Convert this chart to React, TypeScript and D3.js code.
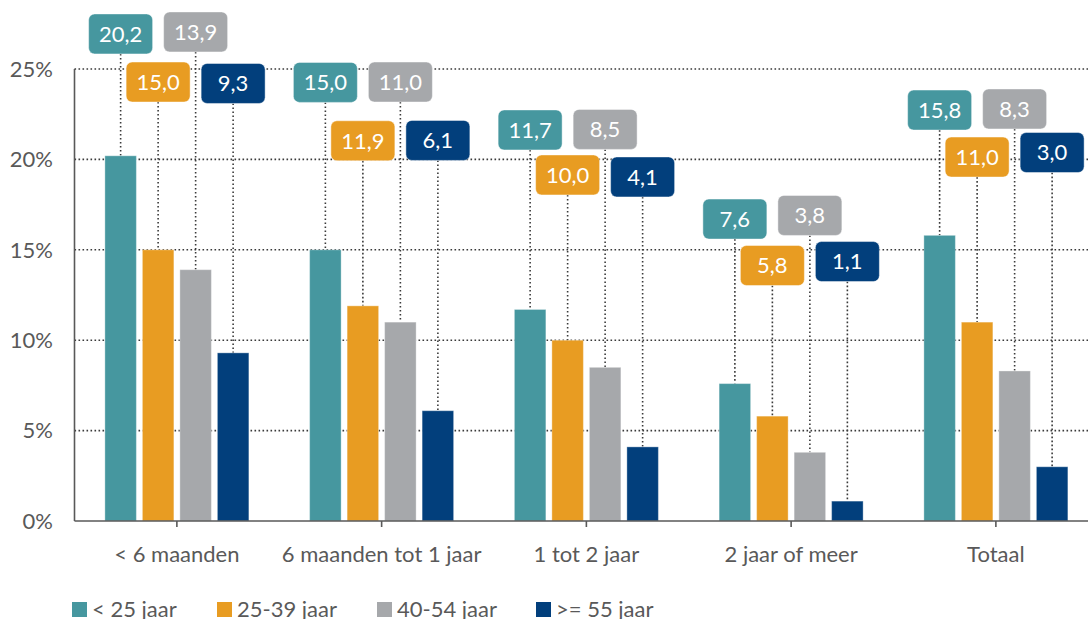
import React from "react";
import * as d3 from "d3";

// categories and series
const categories = ["< 6 maanden", "6 maanden tot 1 jaar", "1 tot 2 jaar", "2 jaar of meer", "Totaal"];
const seriesNames = ["< 25 jaar", "25-39 jaar", "40-54 jaar", ">= 55 jaar"];
const under25 = [20.2, 15.0, 11.7, 7.6, 15.8];
const age25to39 = [15.0, 11.9, 10.0, 5.8, 11.0];
const age40to54 = [13.9, 11.0, 8.5, 3.8, 8.3];
const over55 = [9.3, 6.1, 4.1, 1.1, 3.0];
const yTicks = [0, 5, 10, 15, 20, 25];

// where the value boxes sit (in % units on the y axis), placed by hand in the original
const labelLevelUnder25 = [26.94, 24.26, 21.63, 16.7, 22.73];
const labelLevel25to39 = [24.28, 21.03, 19.14, 14.13, 20.13];
const labelLevel40to54 = [27.05, 24.28, 21.66, 16.9, 22.79];
const labelLevelOver55 = [24.2, 21.05, 19.03, 14.35, 20.38];

const colors = ["#46979f", "#e89c22", "#a6a8ab", "#023f7c"];
const legendX = [72, 217, 377, 536];

const W = 1088;
const H = 619;
const FONT = "Lato, 'Open Sans', sans-serif";
const TEXT = "#595959";

export default function App() {
  const series = [under25, age25to39, age40to54, over55];
  const levels = [labelLevelUnder25, labelLevel25to39, labelLevel40to54, labelLevelOver55];

  const y = d3.scaleLinear().domain([0, 25]).range([521, 69]);
  const x0 = d3.scaleBand<string>().domain(categories).range([74.5, 1098.25]);
  const groupW = 144;
  const x1 = d3.scaleBand<string>().domain(seriesNames).range([0, groupW]).paddingInner(0.16);
  const groupOffset = (x0.bandwidth() - groupW) / 2;
  const left = 74.5;
  const boxW = 64;
  const boxH = 40;

  const barX = (ci: number, si: number) =>
    (x0(categories[ci]) as number) + groupOffset + (x1(seriesNames[si]) as number);

  return (
    <svg
      width={W}
      height={H}
      style={{ position: "absolute", left: 0, top: 0, background: "#fff" }}
      fontFamily={FONT}
    >
      {/* gridlines */}
      <g stroke="#3a3a3a" strokeWidth={1.6} strokeDasharray="1.6 2.4">
        {yTicks.slice(1).map((t) => (
          <line key={t} x1={left} x2={W} y1={y(t)} y2={y(t)} />
        ))}
      </g>

      {/* y tick labels */}
      <g fill={TEXT} fontSize={22} textAnchor="end">
        {yTicks.map((t) => (
          <text key={t} x={53} y={y(t)} dy="0.35em">
            {t}%
          </text>
        ))}
      </g>

      {/* leader lines */}
      <g stroke="#3a3a3a" strokeWidth={1.6} strokeDasharray="1.6 2.4">
        {series.map((vals, si) =>
          vals.map((v, ci) => {
            const cx = barX(ci, si) + x1.bandwidth() / 2;
            return (
              <line
                key={`${si}-${ci}`}
                x1={cx}
                x2={cx}
                y1={y(levels[si][ci]) + boxH / 2}
                y2={y(v)}
              />
            );
          })
        )}
      </g>

      {/* bars */}
      {series.map((vals, si) => (
        <g key={si} fill={colors[si]} stroke="#ffffff" strokeOpacity={0.35} strokeWidth={1}>
          {vals.map((v, ci) => (
            <rect
              key={ci}
              x={barX(ci, si)}
              y={y(v)}
              width={x1.bandwidth()}
              height={y(0) - y(v)}
            />
          ))}
        </g>
      ))}

      {/* axes */}
      <line x1={left} x2={left} y1={y(25)} y2={y(0)} stroke={TEXT} strokeWidth={1.6} />
      <line x1={left} x2={W} y1={y(0)} y2={y(0)} stroke={TEXT} strokeWidth={1.6} />
      {categories.map((c) => {
        const cx = (x0(c) as number) + x0.bandwidth() / 2;
        return (
          <g key={c}>
            <line x1={cx} x2={cx} y1={y(0)} y2={y(0) + 6} stroke={TEXT} strokeWidth={1.6} />
            <text x={cx} y={562} textAnchor="middle" fontSize={22} fill={TEXT}>
              {c}
            </text>
          </g>
        );
      })}

      {/* value boxes */}
      {series.map((vals, si) =>
        vals.map((v, ci) => {
          const cx = barX(ci, si) + x1.bandwidth() / 2;
          const cy = y(levels[si][ci]);
          return (
            <g key={`b${si}-${ci}`}>
              <rect
                x={cx - boxW / 2}
                y={cy - boxH / 2}
                width={boxW}
                height={boxH}
                rx={6}
                fill={colors[si]}
                stroke="#ffffff"
                strokeOpacity={0.45}
              />
              <text x={cx} y={cy} dy="0.36em" textAnchor="middle" fontSize={22} fill="#fff">
                {d3.format(".1f")(v).replace(".", ",")}
              </text>
            </g>
          );
        })
      )}

      {/* legend */}
      {seriesNames.map((s, i) => (
        <g key={s} transform={`translate(${legendX[i]},602)`}>
          <rect width={15} height={15} fill={colors[i]} />
          <text x={20} y={15} fontSize={22} fill={TEXT}>
            {s}
          </text>
        </g>
      ))}
    </svg>
  );
}
